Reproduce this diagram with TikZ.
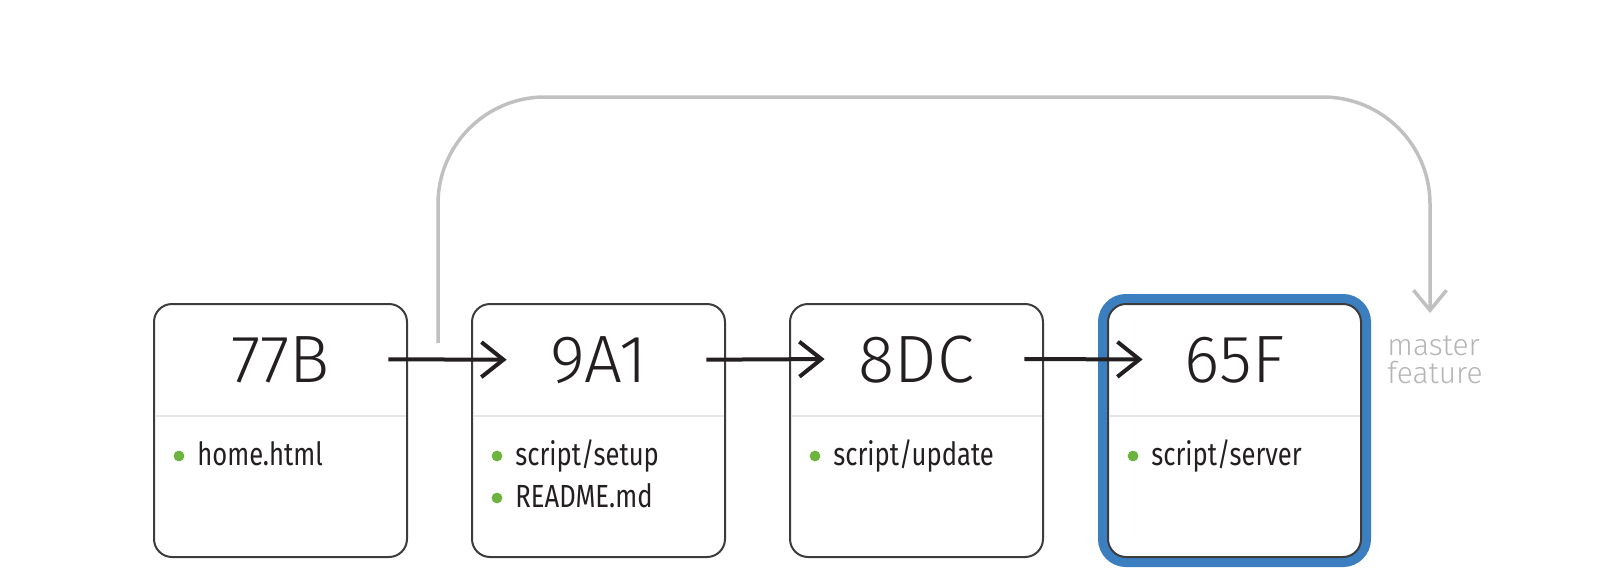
\documentclass[tikz,border=0pt]{standalone}
\usepackage{fontspec}
\setmainfont{Fira Sans}
\newfontfamily\hashfont{Fira Sans Light}
\newfontfamily\filefont[FakeStretch=0.8]{Fira Sans}
\usetikzlibrary{positioning,arrows.meta}

\definecolor{boxgray}{HTML}{3C3C3C}
\definecolor{inkblack}{HTML}{231F20}
\definecolor{rulegray}{HTML}{E6E6E6}
\definecolor{dotgreen}{HTML}{6DB33F}
\definecolor{headblue}{HTML}{3B7FC1}
\definecolor{branchgray}{HTML}{C0C0C0}
\definecolor{refgray}{HTML}{B5B5B5}

\begin{document}
\begin{tikzpicture}[x=0.5pt,y=-0.5pt,node distance=159pt,
  commit/.style={draw=boxgray,line width=1pt,fill=white,rounded corners=9pt,
    minimum width=126.5pt,minimum height=126.5pt,inner sep=0pt},
  head/.style={commit,preaction={draw=headblue,line width=10pt}},
  hash/.style={font=\hashfont\fontsize{33.5}{36}\selectfont,text=inkblack,
    anchor=base,inner sep=0pt,minimum width=127.5pt},
  file/.style={font=\filefont\fontsize{16}{18}\selectfont,text=inkblack,
    anchor=base west,inner sep=0pt},
  ref/.style={font=\hashfont\fontsize{15}{16}\selectfont,text=refgray,
    anchor=base west,inner sep=0pt},
  commit arrow/.style={draw=inkblack,line width=2pt,
    -{Straight Barb[length=11pt,width=17.5pt]}},
  branch/.style={draw=branchgray,line width=1.75pt,rounded corners=53.5pt,
    -{Straight Barb[length=10pt,width=16.5pt]}}]

  \useasboundingbox (0,0) rectangle (1600,573);

  % commits
  \node[commit] (c1) at (280.5,430.5) {};
  \node[commit] (c2) [right of=c1] {};
  \node[commit] (c3) [right of=c2] {};
  \node[head] (c4) [right of=c3] {};

  \foreach \c in {c1,c2,c3,c4}
    \draw[rulegray,line width=1pt,shorten <=1pt,shorten >=1pt]
      ([yshift=-56.5pt]\c.north west) -- ([yshift=-56.5pt]\c.north east);

  \node[hash] (h1) at ([yshift=-39.5pt]c1.north) {77B};
  \node[hash] (h2) at ([yshift=-39.5pt]c2.north) {9A1};
  \node[hash] (h3) at ([yshift=-39.5pt]c3.north) {8DC};
  \node[hash] (h4) at ([yshift=-39.5pt]c4.north) {65F};

  % changed files
  \node[file] (f1) at ([shift={(22pt,-81pt)}]c1.north west) {home.html};
  \node[file] (f2) at ([shift={(22pt,-81pt)}]c2.north west) {script/setup};
  \node[file] (f2b) at ([shift={(22pt,-102pt)}]c2.north west) {README.md};
  \node[file] (f3) at ([shift={(22pt,-81pt)}]c3.north west) {script/update};
  \node[file] (f4) at ([shift={(22pt,-81pt)}]c4.north west) {script/server};

  \foreach \f in {f1,f2,f2b,f3,f4}
    \fill[dotgreen] ([shift={(-9pt,4.5pt)}]\f.base west) circle (2.7pt);

  \path
    ([xshift=-10pt]h1.east) edge[commit arrow] ([xshift=18pt]h2.west)
    ([xshift=-10pt]h2.east) edge[commit arrow] ([xshift=18pt]h3.west)
    ([xshift=-10pt]h3.east) edge[commit arrow] ([xshift=18pt]h4.west);

  % branch pointers
  \node[ref] (master) at (1387,355) {master};
  \node[ref] (feature) at (1387,383) {feature};

  \coordinate (fork) at (438,343);
  \coordinate (tip) at (1430,313);
  \draw[branch] (fork) -- ++(0,-246) -| (tip);
\end{tikzpicture}
\end{document}
